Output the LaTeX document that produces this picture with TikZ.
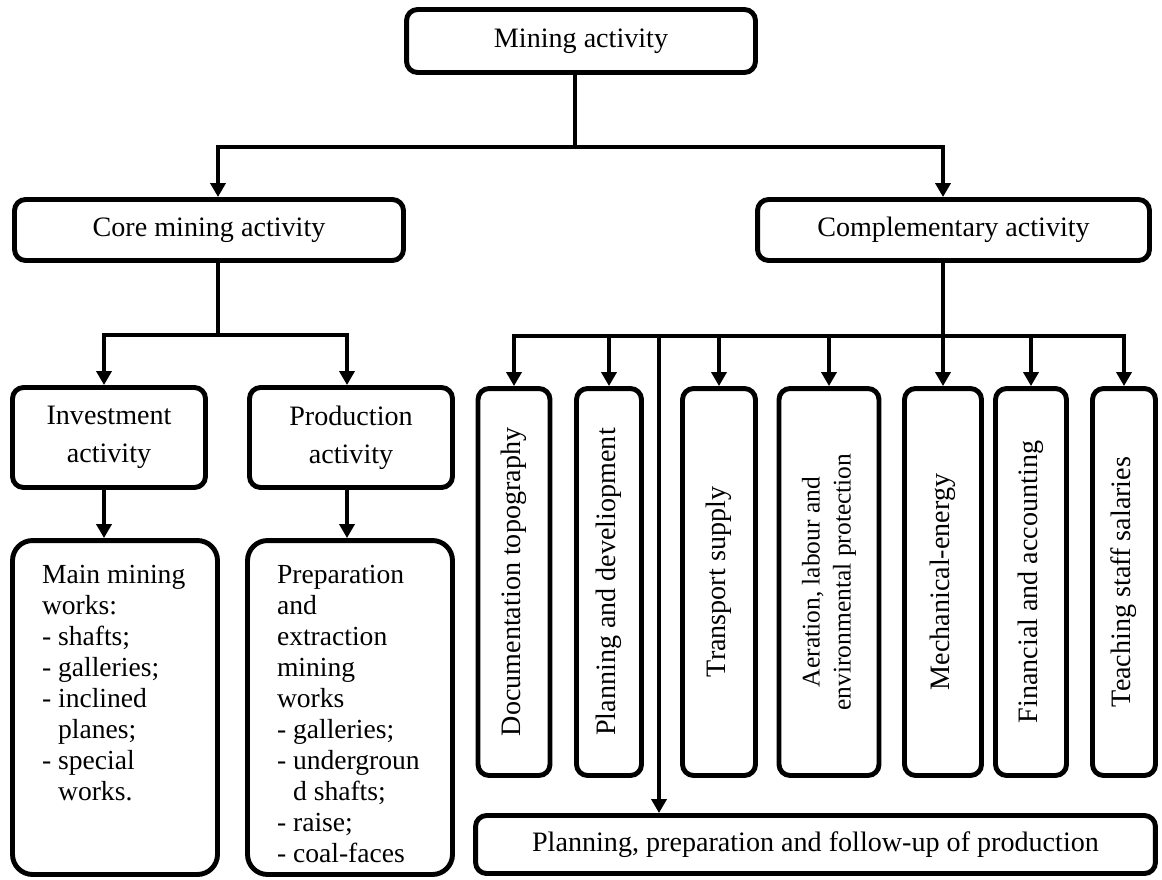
\documentclass[tikz,border=0pt]{standalone}
\usepackage{fontspec}
\setmainfont{Liberation Serif}
\usepackage{graphicx}
\usetikzlibrary{arrows.meta,positioning}
\tikzstyle{block} = [draw, rectangle, rounded corners=0.22cm, line width=2.8pt, inner sep=0pt, align=center, font=\fontsize{16}{21.5}\selectfont]
\tikzstyle{vblock} = [block, minimum height=7.74cm]
\tikzstyle{listblock} = [block, rounded corners=0.4cm, minimum width=4.1cm, minimum height=6.68cm, font=\fontsize{15.7}{17.6}\selectfont]
\tikzstyle{line} = [line width=2.2pt]
\newcommand{\worklist}[1]{\parbox[c][6.68cm][t]{4.1cm}{\raggedright\leftskip=0.59cm\vspace*{0.5cm}#1}}
\newcommand{\dashitem}{-\ }

\begin{document}
\begin{tikzpicture}[x=0.02cm, y=-0.02cm, >={Triangle[width=0.3cm,length=0.28cm]}]
\useasboundingbox (0,0) rectangle (1162,879);

\node [block, minimum width=6.98cm, minimum height=1.26cm] (mining) at (581,41) {Mining activity};
\node [block, minimum width=7.78cm, minimum height=1.22cm] (core) at (209,230) {Core mining activity};
\node [block, minimum width=7.84cm, minimum height=1.22cm] (comp) at (953.5,230) {Complementary activity};

\node [block, minimum width=3.86cm, minimum height=2cm] (invest) at (109,437.5) {Investment\\activity};
\node [block, minimum width=4.06cm, minimum height=2cm] (prod) at (351,437.5) {Production\\activity};

\node [listblock] (mainworks) at (115,707.5) {\worklist{Main mining\\ works:\\ \dashitem shafts;\\ \dashitem galleries;\\ \dashitem inclined\\ \phantom{\dashitem}planes;\\ \dashitem special\\ \phantom{\dashitem}works.}};
\node [listblock] (prepworks) at (350,707.5) {\worklist{Preparation\\ and\\ extraction\\ mining\\ works\\ \dashitem galleries;\\ \dashitem undergroun\\ \phantom{\dashitem}d shafts;\\ \dashitem raise;\\ \dashitem coal-faces}};

\node [vblock, minimum width=1.44cm] (doc) at (514,582) {\rotatebox{90}{Documentation topography}};
\node [vblock, minimum width=1.3cm] (plandev) at (609,582) {\rotatebox{90}{Planning and develiopment}};
\node [vblock, minimum width=1.46cm] (transport) at (719,582) {\rotatebox{90}{Transport supply}};
\node [vblock, minimum width=2cm] (aeration) at (829,582) {\rotatebox{90}{\parbox{7cm}{\centering\fontsize{14.5}{17.6}\selectfont Aeration, labour and\\ environmental protection}}};
\node [vblock, minimum width=1.54cm] (mech) at (943,582) {\rotatebox{90}{Mechanical-energy}};
\node [vblock, minimum width=1.42cm] (finance) at (1031,582) {\rotatebox{90}{Financial and accounting}};
\node [vblock, minimum width=1.26cm] (teaching) at (1124,582) {\rotatebox{90}{Teaching staff salaries}};

\node [block, minimum width=13.6cm, minimum height=1.16cm] (planprod) at (815.5,844.5) {Planning, preparation and follow-up of production};

% top level
\coordinate (topbus) at (575,147);
\draw [line] ([xshift=-0.12cm]mining.south) -- (topbus);
\draw [line,->] (topbus) -| ([xshift=0.18cm]core.north);
\draw [line,->] (topbus) -| ([xshift=-0.21cm]comp.north);

% core mining activity
\coordinate (corebus) at (218,335);
\draw [line] ([xshift=0.18cm]core.south) -- (corebus);
\draw [line,->] (corebus) -| ([xshift=-0.1cm]invest.north);
\draw [line,->] (corebus) -| ([xshift=-0.08cm]prod.north);
\draw [line,->] ([xshift=-0.1cm]invest.south) -- ([xshift=-0.1cm]invest.south |- mainworks.north);
\draw [line,->] ([xshift=-0.08cm]prod.south) -- ([xshift=-0.08cm]prod.south |- prepworks.north);

% complementary activity
\coordinate (compbus) at (943,336);
\draw [line] ([xshift=-0.21cm]comp.south) -- (compbus);
\draw [line,->] (compbus) -| (doc.north);
\draw [line,->] (compbus) -| (teaching.north);
\foreach \n in {plandev,transport,aeration,mech,finance}
  \draw [line,->] (\n.north |- compbus) -- (\n.north);
\coordinate (planbus) at (659,336);
\draw [line,->] (planbus) -- (planbus |- planprod.north);

\end{tikzpicture}
\end{document}
